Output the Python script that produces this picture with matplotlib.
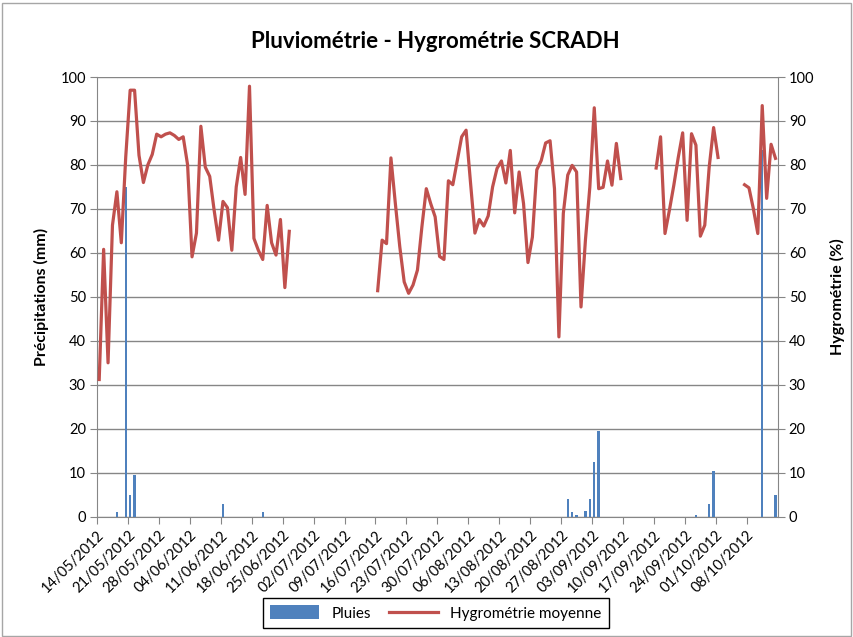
import matplotlib
matplotlib.use('Agg')
import matplotlib.pyplot as plt
import numpy as np
import pandas as pd
from matplotlib.patches import Rectangle, Patch
from matplotlib.lines import Line2D

plt.rcParams['font.family'] = ['Lato', 'DejaVu Sans']

nan = np.nan

# daily series, starting 14/05/2012
start = '14/05/2012'
n_days = 154

hygro = [
    31.2, 60.8, 35.0, 66.3, 73.9, 62.3, 81.8, 97.0, 97.0, 82.2,
    76.0, 80.0, 82.4, 87.0, 86.4, 87.0, 87.3, 86.7, 85.8, 86.4,
    80.0, 59.1, 64.5, 88.8, 79.5, 77.4, 69.7, 62.9, 71.7, 70.3,
    60.6, 75.0, 81.7, 73.3, 97.9, 63.3, 60.6, 58.5, 70.8, 62.3,
    59.5, 67.6, 52.1, 64.9,
    nan, nan, nan, nan, nan, nan, nan, nan, nan, nan,
    nan, nan, nan, nan, nan, nan, nan, nan, nan,
    51.4, 62.9, 62.1, 81.6, 71.2, 61.4, 53.4, 50.8, 52.7, 56.1,
    65.9, 74.6, 71.2, 68.2, 59.2, 58.5, 76.4, 75.5, 81.0, 86.4,
    87.9, 76.0, 64.5, 67.6, 66.1, 68.4, 75.0, 79.2, 80.9, 75.9,
    83.3, 69.1, 78.4, 71.2, 57.8, 63.6, 78.9, 81.0, 85.0, 85.5,
    74.6, 40.9, 69.0, 77.7, 79.9, 78.4, 47.7, 62.9, 75.0, 93.0,
    74.6, 74.9, 80.9, 75.4, 84.9, 76.9,
    nan, nan, nan, nan, nan, nan, nan,
    79.3, 86.4, 64.4, 69.7, 75.4, 81.7, 87.3, 67.4, 87.1, 84.5,
    63.8, 66.3, 79.5, 88.5, 81.7,
    nan, nan, nan, nan, nan,
    75.5, 74.8, 70.0, 64.4, 93.5, 72.4, 84.7, 81.5,
]

rain_dates = ['18/05/2012', '20/05/2012', '21/05/2012', '22/05/2012',
              '11/06/2012', '20/06/2012', '28/08/2012', '29/08/2012',
              '30/08/2012', '01/09/2012', '02/09/2012', '03/09/2012',
              '04/09/2012', '26/09/2012', '29/09/2012', '30/09/2012',
              '11/10/2012', '14/10/2012']
rain_mm = [1.0, 75.0, 4.9, 9.5,
           2.9, 1.0, 4.0, 1.0,
           0.4, 1.3, 4.0, 12.5,
           19.5, 0.4, 2.8, 10.4,
           83.3, 4.9]

days = pd.date_range(pd.to_datetime(start, dayfirst=True), periods=n_days)
x = np.arange(n_days) + 0.5
rain_x = (pd.to_datetime(rain_dates, dayfirst=True) - days[0]).days + 0.5

blue = '#4F81BD'
red = '#C0504D'
grid = '#868686'

fig = plt.figure(figsize=(8.54, 6.37), dpi=100)
fig.patches.append(Rectangle((0.002, 0.002), 0.994, 0.994, transform=fig.transFigure,
                             fill=False, edgecolor='#a6a6a6', lw=1))

ax = fig.add_axes([97/854, 1-516.7/637, 680.7/854, 439.7/637])
ax.bar(rain_x, rain_mm, width=0.55, color=blue, zorder=3)
ax.set_xlim(0, n_days)
ax.set_ylim(0, 100)
ax.set_yticks(np.arange(0, 101, 10))
ax.grid(axis='y', color=grid, lw=1, zorder=0)
ax.set_axisbelow(True)

ticks = np.arange(0, n_days, 7)
ax.set_xticks(ticks)
ax.set_xticklabels([days[t].strftime('%d/%m/%Y') for t in ticks], rotation=45,
                   ha='right', rotation_mode='anchor')
for s in ['top', 'right']:
    ax.spines[s].set_visible(False)
for s in ['left', 'bottom']:
    ax.spines[s].set_color(grid)
ax.tick_params(axis='both', color=grid, length=5, labelsize=10.5, pad=3)
ax.set_ylabel('Précipitations (mm)', fontsize=11.5, fontweight='bold', labelpad=8)

ax2 = ax.twinx()
ax2.plot(x, hygro, color=red, lw=2.3, zorder=4)
ax2.set_ylim(0, 100)
ax2.set_yticks(np.arange(0, 101, 10))
for s in ['top', 'left', 'bottom']:
    ax2.spines[s].set_visible(False)
ax2.spines['right'].set_color(grid)
ax2.tick_params(axis='y', color=grid, length=5, labelsize=10.5, pad=3)
ax2.set_ylabel('Hygrométrie (%)', fontsize=11.5, fontweight='bold', labelpad=11)

fig.text(435.5/854, 1-42/637, 'Pluviométrie - Hygrométrie SCRADH', ha='center', va='center',
         fontsize=16, fontweight='bold')

handles = [Patch(facecolor=blue, edgecolor='none'), Line2D([], [], color=red, lw=2.3)]
leg = fig.legend(handles, ['Pluies', 'Hygrométrie moyenne'], loc='center',
                 bbox_to_anchor=(436/854, 1-613/637), ncol=2, fontsize=11,
                 frameon=True, fancybox=False, framealpha=1, edgecolor='black',
                 handlelength=3.2, handleheight=1.0, columnspacing=1.2, borderpad=0.5)
leg.get_frame().set_linewidth(1)

fig.savefig('out.png', dpi=100)
